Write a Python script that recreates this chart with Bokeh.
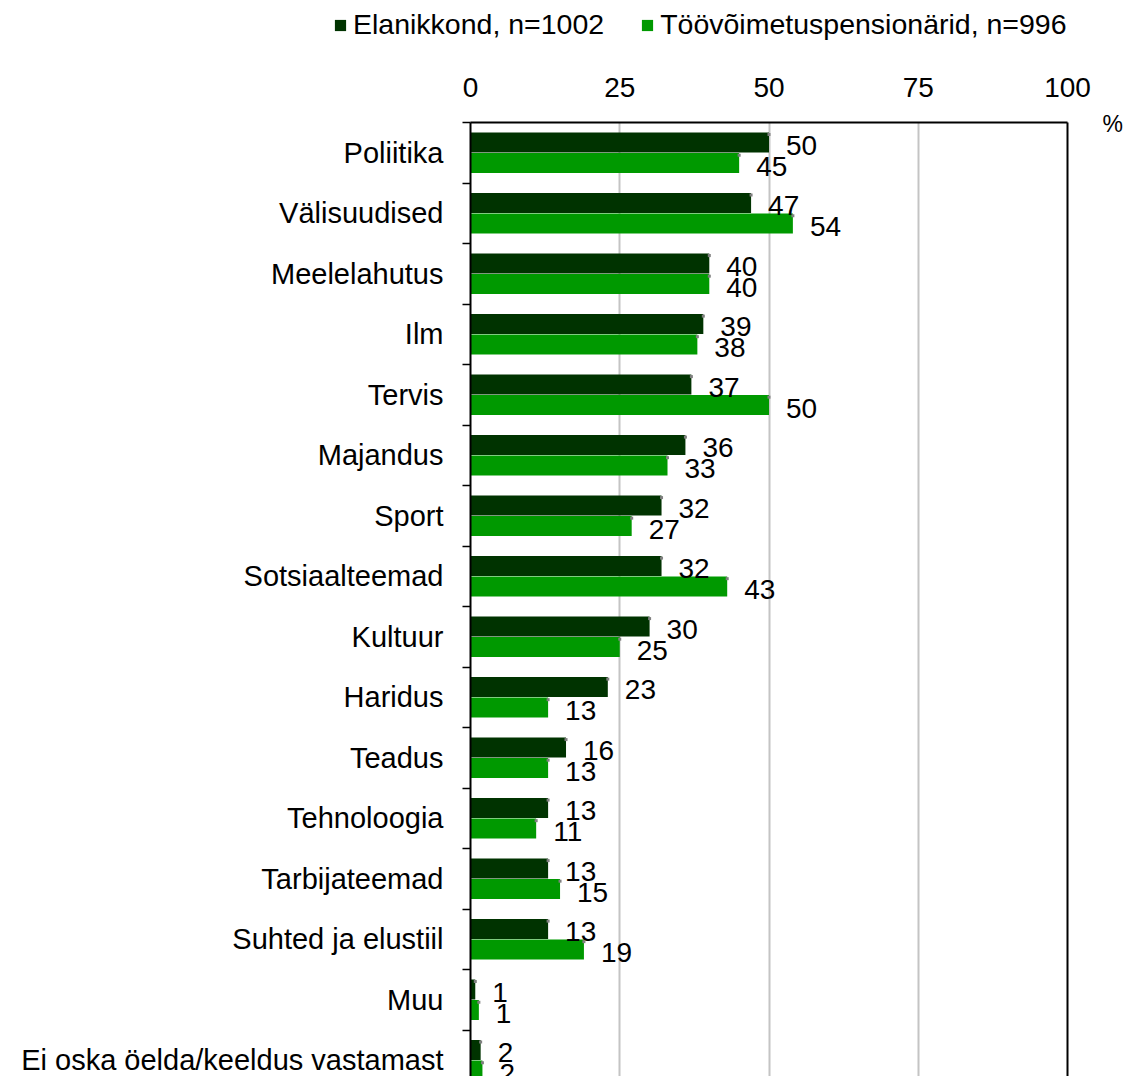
from bokeh.plotting import figure
from bokeh.layouts import column
from bokeh.models import (ColumnDataSource, Range1d, FixedTicker, LinearAxis,
                          Legend, LegendItem)
from bokeh.core.properties import value
from bokeh.embed import file_html
from bokeh.resources import INLINE

categories = ["Poliitika", "Välisuudised", "Meelelahutus", "Ilm", "Tervis",
              "Majandus", "Sport", "Sotsiaalteemad", "Kultuur", "Haridus",
              "Teadus", "Tehnoloogia", "Tarbijateemad", "Suhted ja elustiil",
              "Muu", "Ei oska öelda/keeldus vastamast"]
elanikkond = [50, 47, 40, 39, 37, 36, 32, 32, 30, 23, 16, 13, 13, 13, 0.8, 1.7]
pensionarid = [45, 54, 40, 38, 50, 33, 27, 43, 25, 13, 13, 11, 15, 19, 1.4, 2.0]
series_names = ["Elanikkond, n=1002", "Töövõimetuspensionärid, n=996"]
x_ticks = [0, 25, 50, 75, 100]
unit_label = "%"

FONT = "Liberation Sans"
DARK = "#003300"
GREEN = "#009900"

W, H = 1125, 1076
LEG_H = 50
LEFT, TOP, RIGHT = 470, 122, 1068
n = len(categories)
idx = list(range(n))
BAND_PX = 60.5
FRAME_H = H - TOP
y_bottom = -0.5 + FRAME_H / BAND_PX

# ---- legend strip (its own plot; swatches are legend entries of off-range bars) ----
lg = figure(width=W, height=LEG_H, output_backend="svg", toolbar_location=None,
            x_range=Range1d(0, 1), y_range=Range1d(0, 1),
            x_axis_location=None, y_axis_location=None,
            min_border_left=0, min_border_right=0, min_border_top=0, min_border_bottom=0)
lg.grid.visible = False
lg.outline_line_color = None
lg.border_fill_color = "white"
lg.background_fill_color = "white"
l1 = lg.hbar(y=[-50], left=[100], right=[100 + elanikkond[0]], height=0.3,
             fill_color=DARK, line_color=None)
l2 = lg.hbar(y=[-50], left=[100], right=[100 + pensionarid[0]], height=0.3,
             fill_color=GREEN, line_color=None)
legend = Legend(items=[LegendItem(label=series_names[0], renderers=[l1]),
                       LegendItem(label=series_names[1], renderers=[l2])],
                orientation="horizontal", location=(333, 9),
                glyph_width=14, glyph_height=14, label_standoff=6, spacing=36,
                padding=0, margin=0, border_line_color=None,
                background_fill_alpha=0,
                label_text_font=FONT, label_text_font_size="28.5px",
                label_text_color="black")
lg.add_layout(legend, "center")

# ---- main chart ----
p = figure(width=W, height=H - LEG_H, output_backend="svg", toolbar_location=None,
           x_range=Range1d(0, 100), y_range=Range1d(y_bottom, -0.5),
           x_axis_location="above", min_border_left=LEFT, min_border_right=W - RIGHT,
           min_border_top=TOP - LEG_H, min_border_bottom=0)
p.outline_line_color = None
p.background_fill_color = "white"
p.border_fill_color = "white"

off = 0.17
h = 0.33
src1 = ColumnDataSource(dict(y=[i - off for i in idx], v=elanikkond,
                             lab=[str(int(round(v))) for v in elanikkond],
                             dy=[i - off - 0.13 for i in idx]))
src2 = ColumnDataSource(dict(y=[i + off for i in idx], v=pensionarid,
                             lab=[str(int(round(v))) for v in pensionarid],
                             dy=[i + off - 0.13 for i in idx]))

p.hbar(y="y", right="v", left=0, height=h, source=src1,
       fill_color=DARK, line_color=None)
p.hbar(y="y", right="v", left=0, height=h, source=src2,
       fill_color=GREEN, line_color=None)
p.scatter(x="v", y="dy", source=src1, marker="square", size=3,
          fill_color="#808080", line_color=None)
p.scatter(x="v", y="dy", source=src2, marker="square", size=3,
          fill_color="#808080", line_color=None)

for src in (src1, src2):
    p.text(x="v", y="y", text="lab", source=src, x_offset=17, y_offset=3,
           text_baseline="middle", text_align="left",
           text_font=value(FONT), text_font_size="28px", text_color="black")

# top axis
xa = p.xaxis[0]
xa.ticker = FixedTicker(ticks=x_ticks)
xa.major_tick_out = 0
xa.major_tick_in = 0
xa.minor_tick_out = 0
xa.minor_tick_in = 0
xa.axis_line_width = 2
xa.axis_line_color = "black"
xa.major_label_text_font = FONT
xa.major_label_text_font_size = "28px"
xa.major_label_text_color = "black"
xa.major_label_standoff = 26

# left axis
ya = p.yaxis[0]
ya.ticker = FixedTicker(ticks=idx, minor_ticks=[i - 0.5 for i in range(n + 1)])
ya.major_label_overrides = {i: c for i, c in enumerate(categories)}
ya.major_tick_out = 0
ya.major_tick_in = 0
ya.minor_tick_out = 8
ya.minor_tick_in = 0
ya.minor_tick_line_color = "black"
ya.minor_tick_line_width = 1.5
ya.axis_line_width = 2
ya.axis_line_color = "black"
ya.major_label_text_font = FONT
ya.major_label_text_font_size = "29px"
ya.major_label_text_color = "black"
ya.major_label_standoff = 19

# right border, carrying the unit label
pct_y = -0.47
ra = LinearAxis(ticker=FixedTicker(ticks=[pct_y]),
                major_label_overrides={pct_y: unit_label},
                major_label_text_font=FONT, major_label_text_font_size="23px",
                major_label_text_color="black", major_label_standoff=35,
                major_tick_out=0, major_tick_in=0, minor_tick_out=0, minor_tick_in=0,
                axis_line_width=2, axis_line_color="black")
p.add_layout(ra, "right")

p.xgrid.ticker = FixedTicker(ticks=[25, 50, 75])
p.xgrid.grid_line_color = "#c4c4c4"
p.xgrid.grid_line_width = 2
p.ygrid.visible = False

layout = column(column(lg), p, spacing=0)
open("out.html", "w").write(file_html(layout, INLINE))
